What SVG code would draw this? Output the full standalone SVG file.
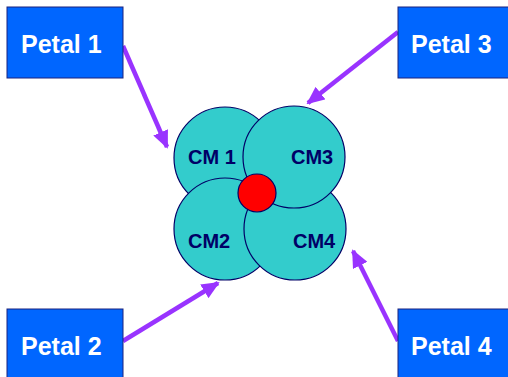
<svg xmlns="http://www.w3.org/2000/svg" width="508" height="377" viewBox="0 0 508 377">
<style>
.box{fill:#0066ff;stroke:#1a237e;stroke-width:1}
.pt{font-family:"Liberation Sans",Arial,sans-serif;font-weight:bold;font-size:25px;fill:#ffffff}
.cm{fill:#33cccc;stroke:#000066;stroke-width:1.2}
.ct{font-family:"Liberation Sans",Arial,sans-serif;font-weight:bold;font-size:20px;fill:#000066}
.arr{stroke:#9933ff;stroke-width:4.5;fill:none;marker-end:url(#ah)}
</style>
<defs>
<marker id="ah" markerUnits="userSpaceOnUse" markerWidth="18" markerHeight="16" refX="16" refY="8" orient="auto" viewBox="0 0 18 16">
<path d="M0,0 L18,8 L0,16 z" fill="#9933ff"/>
</marker>
</defs>
<rect width="508" height="377" fill="#ffffff"/>
<g id="connectors">
<line class="arr" x1="123" y1="46" x2="167" y2="147"/>
<line class="arr" x1="398" y1="32" x2="308" y2="103"/>
<line class="arr" x1="123" y1="341" x2="218" y2="283"/>
<line class="arr" x1="398" y1="341" x2="353" y2="251"/>
</g>
<g id="cm1"><circle class="cm" cx="225" cy="158" r="51"/></g>
<g id="cm2"><circle class="cm" cx="225" cy="229" r="51"/></g>
<g id="cm4"><circle class="cm" cx="295" cy="229" r="51"/></g>
<g id="cm3"><circle class="cm" cx="294" cy="157" r="51"/></g>
<g id="center"><circle cx="257" cy="193" r="19" fill="#ff0000" stroke="#000066" stroke-width="1.2"/></g>
<g id="cm-labels">
<text class="ct" x="188" y="164">CM 1</text>
<text class="ct" x="291" y="164">CM3</text>
<text class="ct" x="188" y="248">CM2</text>
<text class="ct" x="293" y="248">CM4</text>
</g>
<g id="petal1"><rect class="box" x="7" y="7" width="116" height="71"/><text class="pt" x="21" y="53">Petal 1</text></g>
<g id="petal3"><rect class="box" x="398" y="7" width="116" height="71"/><text class="pt" x="411" y="53">Petal 3</text></g>
<g id="petal2"><rect class="box" x="7" y="309" width="116" height="75"/><text class="pt" x="21" y="355">Petal 2</text></g>
<g id="petal4"><rect class="box" x="398" y="309" width="116" height="75"/><text class="pt" x="411" y="355">Petal 4</text></g>
</svg>
